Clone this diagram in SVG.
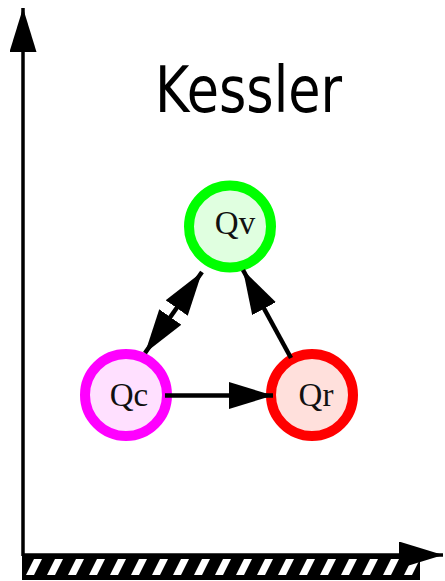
<svg xmlns="http://www.w3.org/2000/svg" width="445" height="581" viewBox="0 0 445 581">
  <style>
    .axis { stroke: #000; stroke-width: 3.5; fill: none; }
    .conn { stroke: #000; stroke-width: 4.5; fill: none; }
    .node { stroke-width: 10; }
    .lbl { font-family: "Liberation Serif", "Times New Roman", serif; font-size: 33px; fill: #111; text-anchor: middle; }
    .title { font-family: "DejaVu Sans", Verdana, sans-serif; font-size: 64px; fill: #000; text-anchor: middle; }
  </style>
  <defs>
    <marker id="axhead" markerUnits="userSpaceOnUse" markerWidth="44" markerHeight="27" refX="44" refY="13.5" orient="auto">
      <path d="M0,0 L44,13.5 L0,27 Z" fill="#000"/>
    </marker>
    <marker id="head" markerUnits="userSpaceOnUse" markerWidth="44" markerHeight="27" refX="44" refY="13.5" orient="auto-start-reverse">
      <path d="M0,0 L44,13.5 L0,27 Z" fill="#000"/>
    </marker>
    <pattern id="hatch" patternUnits="userSpaceOnUse" x="22" y="556" width="21" height="24">
      <rect x="0" y="0" width="21" height="24" fill="#000"/>
      <polygon points="12,3 20,3 12,19 4,19" fill="#fff"/>
    </pattern>
  </defs>

  <g id="ground">
    <rect x="22" y="556" width="398" height="24" fill="url(#hatch)"/>
  </g>

  <g id="axes">
    <line class="axis" x1="23" y1="556" x2="23" y2="8" marker-end="url(#axhead)"/>
    <line class="axis" x1="22" y1="555" x2="443" y2="555" marker-end="url(#axhead)"/>
  </g>

  <g id="title">
    <text class="title" x="248.5" y="112" textLength="187" lengthAdjust="spacingAndGlyphs">Kessler</text>
  </g>

  <g id="Qv">
    <circle class="node" cx="230" cy="226.5" r="41" fill="#e0ffe0" stroke="#00ff00"/>
    <text class="lbl" x="235" y="234">Qv</text>
  </g>
  <g id="Qc">
    <circle class="node" cx="126" cy="395" r="41" fill="#ffe0ff" stroke="#ff00ff"/>
    <text class="lbl" x="129" y="406">Qc</text>
  </g>
  <g id="Qr">
    <circle class="node" cx="312" cy="395" r="41" fill="#ffe0dc" stroke="#ff0000"/>
    <text class="lbl" x="316" y="406">Qr</text>
  </g>

  <g id="connectors">
    <line class="conn" x1="165" y1="395.5" x2="273" y2="395.5" marker-end="url(#head)"/>
    <line class="conn" x1="291" y1="358" x2="243" y2="270" marker-end="url(#head)"/>
    <line class="conn" x1="145" y1="353" x2="202" y2="272" marker-start="url(#head)" marker-end="url(#head)"/>
  </g>
</svg>
